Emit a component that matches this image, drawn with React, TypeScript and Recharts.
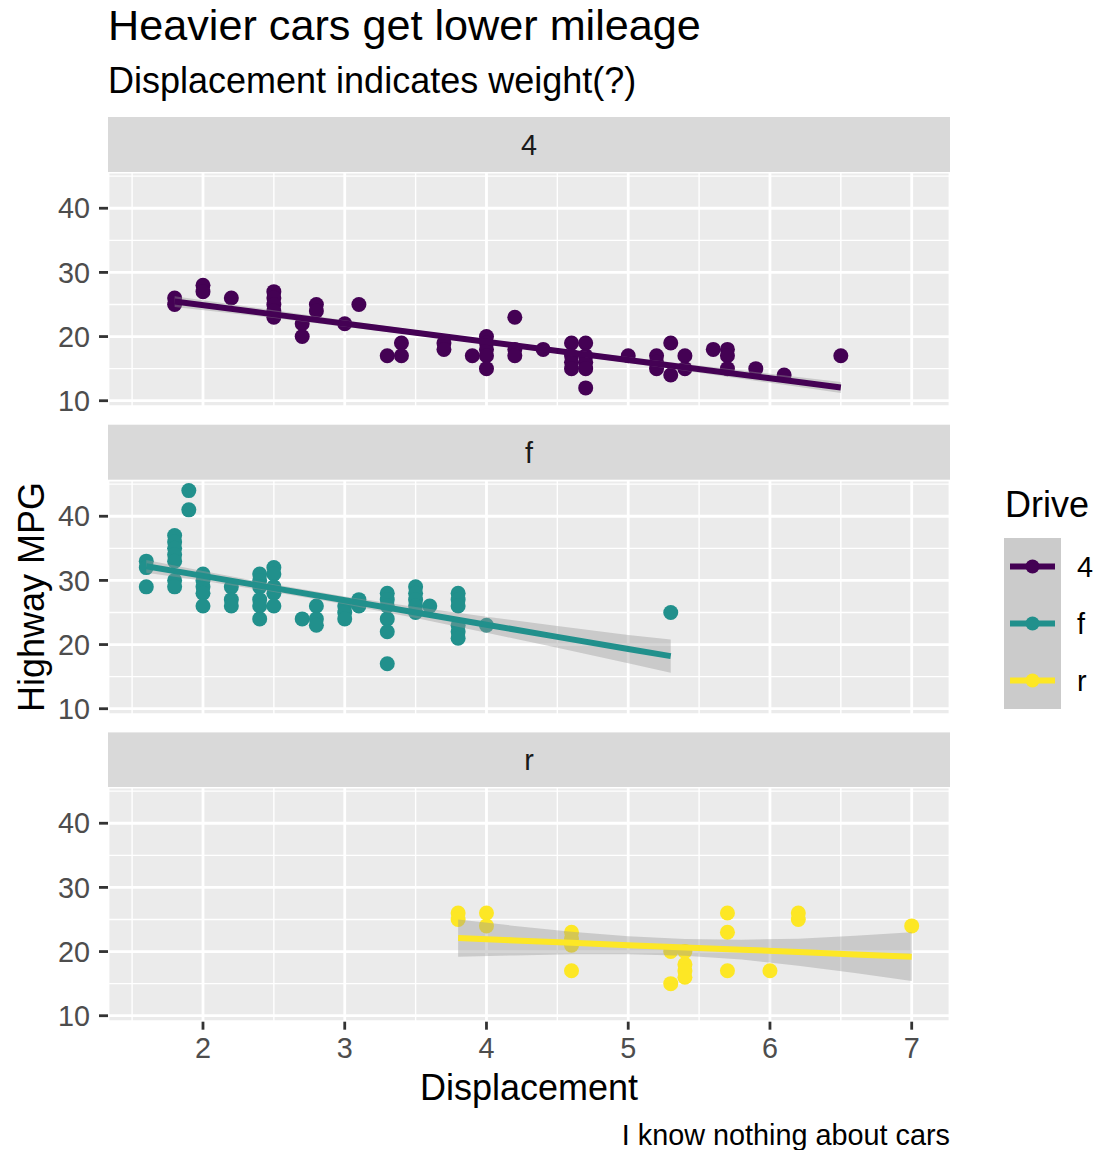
import React from 'react';
import { ComposedChart, Scatter, Line, Area, XAxis, YAxis, CartesianGrid } from 'recharts';

// ---------- data ----------
const DRIVES = ['4', 'f', 'r'];
const DRIVE_COLORS = ['#440154', '#21908C', '#FDE725'];

const X_TICKS = [2, 3, 4, 5, 6, 7];
const X_MINOR = [1.5, 2.5, 3.5, 4.5, 5.5, 6.5];
const Y_TICKS = [10, 20, 30, 40];
const Y_MINOR = [15, 25, 35, 45];

// 4-wheel drive
const displ4 = [1.8, 1.8, 2.0, 2.0, 2.2, 2.5, 2.5, 2.5, 2.5, 2.5, 2.7, 2.7, 2.8, 2.8, 3.0, 3.1, 3.3, 3.4, 3.4, 3.7, 3.7, 3.9, 4.0, 4.0, 4.0, 4.0, 4.0, 4.2, 4.2, 4.2, 4.4, 4.6, 4.6, 4.6, 4.6, 4.7, 4.7, 4.7, 4.7, 4.7, 5.0, 5.2, 5.2, 5.2, 5.3, 5.3, 5.4, 5.4, 5.6, 5.7, 5.7, 5.7, 5.9, 6.1, 6.5];
const hwy4 = [26, 25, 28, 27, 26, 27, 26, 25, 24, 23, 22, 20, 25, 24, 22, 25, 17, 19, 17, 19, 18, 17, 20, 19, 18, 17, 15, 23, 18, 17, 18, 19, 17, 16, 15, 19, 17, 16, 15, 12, 17, 17, 16, 15, 19, 14, 17, 15, 18, 18, 17, 15, 15, 14, 17];

// front-wheel drive
const displF = [1.6, 1.6, 1.6, 1.8, 1.8, 1.8, 1.8, 1.8, 1.8, 1.8, 1.9, 1.9, 2.0, 2.0, 2.0, 2.0, 2.0, 2.2, 2.2, 2.2, 2.4, 2.4, 2.4, 2.4, 2.4, 2.4, 2.5, 2.5, 2.5, 2.5, 2.5, 2.7, 2.8, 2.8, 2.8, 3.0, 3.0, 3.0, 3.1, 3.1, 3.3, 3.3, 3.3, 3.3, 3.3, 3.3, 3.5, 3.5, 3.5, 3.5, 3.5, 3.6, 3.8, 3.8, 3.8, 3.8, 3.8, 3.8, 4.0, 5.3];
const hwyF = [33, 32, 29, 37, 36, 35, 34, 33, 30, 29, 44, 41, 31, 30, 29, 28, 26, 29, 27, 26, 31, 30, 29, 27, 26, 24, 32, 31, 29, 28, 26, 24, 26, 24, 23, 26, 25, 24, 27, 26, 28, 27, 26, 24, 22, 17, 29, 28, 27, 26, 25, 26, 28, 27, 26, 23, 22, 21, 23, 25];

// rear-wheel drive
const displR = [3.8, 3.8, 4.0, 4.0, 4.6, 4.6, 4.6, 4.6, 5.3, 5.3, 5.4, 5.4, 5.4, 5.4, 5.7, 5.7, 5.7, 6.0, 6.2, 6.2, 7.0];
const hwyR = [26, 25, 26, 24, 23, 22, 21, 17, 20, 15, 20, 18, 17, 16, 26, 23, 17, 17, 26, 25, 24];

// fitted lines with confidence bands
const bandX4 = [1.8, 2.5, 3.2, 3.9, 4.6, 5.3, 6.0, 6.5];
const fit4 = [25.45, 23.46, 21.46, 19.47, 17.48, 15.48, 13.49, 12.07];
const lo4 = [24.6, 22.9, 21.0, 19.1, 17.1, 15.0, 12.8, 11.2];
const hi4 = [26.3, 24.1, 21.9, 19.8, 17.9, 16.0, 14.2, 12.9];

const bandXF = [1.6, 2.0, 2.5, 3.0, 3.5, 4.0, 4.5, 5.0, 5.3];
const fitF = [32.2, 30.7, 28.8, 26.9, 25.0, 23.1, 21.2, 19.3, 18.2];
const loF = [31.2, 29.95, 28.2, 26.3, 24.15, 21.85, 19.5, 17.1, 15.6];
const hiF = [33.2, 31.45, 29.4, 27.5, 25.85, 24.35, 22.9, 21.5, 20.8];

const bandXR = [3.8, 4.2, 4.6, 5.0, 5.4, 5.8, 6.2, 6.6, 7.0];
const fitR = [22.1, 21.74, 21.38, 21.0, 20.65, 20.3, 19.93, 19.56, 19.2];
const loR = [19.2, 19.4, 19.6, 19.6, 19.35, 18.75, 17.8, 16.65, 15.4];
const hiR = [25.0, 24.0, 23.1, 22.4, 21.95, 21.85, 22.0, 22.45, 23.0];

// ---------- build tables ----------
const pts = (xs: number[], ys: number[]) => xs.map((x, i) => ({ x, y: ys[i] }));
const band = (xs: number[], fit: number[], lo: number[], hi: number[]) =>
  xs.map((x, i) => ({ x, fit: fit[i], lo: lo[i], hi: hi[i] }));

const PANELS = [
  { label: DRIVES[0], color: DRIVE_COLORS[0], points: pts(displ4, hwy4), band: band(bandX4, fit4, lo4, hi4) },
  { label: DRIVES[1], color: DRIVE_COLORS[1], points: pts(displF, hwyF), band: band(bandXF, fitF, loF, hiF) },
  { label: DRIVES[2], color: DRIVE_COLORS[2], points: pts(displR, hwyR), band: band(bandXR, fitR, loR, hiR) },
];

// ---------- layout ----------
const FONT = '"Liberation Sans", Arial, Helvetica, sans-serif';
const X_DOMAIN: [number, number] = [1.33, 7.27];
const Y_DOMAIN: [number, number] = [9.07, 45.65];
const PLOT_LEFT = 108;
const PLOT_RIGHT = 950;
const STRIP_H = 55;
const PLOT_H = 234.7;
const GAP = 18;
const FIRST_STRIP_TOP = 117;
const X_AXIS_H = 60;
const PAD_BOTTOM = 18;

const stripTop = (i: number) => FIRST_STRIP_TOP + i * (STRIP_H + PLOT_H + GAP);
const plotTop = (i: number) => stripTop(i) + STRIP_H;

function Panel({ idx }: { idx: number }) {
  const p = PANELS[idx];
  const bottom = idx === PANELS.length - 1;
  const h = PLOT_H + (bottom ? X_AXIS_H : PAD_BOTTOM);
  const w = PLOT_RIGHT + 10;
  const color = p.color;
  const dot = (props: any) =>
    props.cx == null ? null : <circle cx={props.cx} cy={props.cy} r={7.5} fill={color} />;
  return (
    <div style={{ position: 'absolute', left: 0, top: plotTop(idx), width: w, height: h }}>
      <ComposedChart
        width={w}
        height={h}
        data={p.band}
        margin={{ top: 0, right: 10, bottom: bottom ? 0 : PAD_BOTTOM, left: 0 }}
      >
        <XAxis xAxisId="minor" type="number" dataKey="x" domain={X_DOMAIN} ticks={X_MINOR} interval={0} hide allowDataOverflow />
        <YAxis yAxisId="minor" type="number" dataKey="y" domain={Y_DOMAIN} ticks={Y_MINOR} interval={0} hide allowDataOverflow />
        <CartesianGrid xAxisId="minor" yAxisId="minor" fill="#EBEBEB" fillOpacity={1} stroke="#FFFFFF" strokeWidth={1.4} />
        <CartesianGrid stroke="#FFFFFF" strokeWidth={2.8} fill="none" />
        <XAxis
          type="number"
          dataKey="x"
          domain={X_DOMAIN}
          ticks={X_TICKS}
          interval={0}
          allowDataOverflow
          hide={!bottom}
          height={X_AXIS_H}
          axisLine={false}
          tickSize={8}
          tickMargin={7.6}
          tickLine={{ stroke: '#333333', strokeWidth: 2.8 }}
          tick={{ fill: '#4D4D4D', fontSize: 28.8, fontFamily: FONT }}
        />
        <YAxis
          type="number"
          dataKey="y"
          domain={Y_DOMAIN}
          ticks={Y_TICKS}
          interval={0}
          allowDataOverflow
          width={PLOT_LEFT}
          axisLine={false}
          tickSize={9}
          tickMargin={9}
          tickLine={{ stroke: '#333333', strokeWidth: 2.8 }}
          tick={{ fill: '#4D4D4D', fontSize: 28.8, fontFamily: FONT }}
        />
        <Scatter data={p.points} fill={color} shape={dot} isAnimationActive={false} zIndex={50} />
        <Area
          type="linear"
          dataKey={(d: any) => [d.lo, d.hi]}
          stroke="none"
          fill="#999999"
          fillOpacity={0.4}
          isAnimationActive={false}
          activeDot={false}
        />
        <Line
          type="linear"
          dataKey="fit"
          stroke={color}
          strokeWidth={6}
          dot={false}
          activeDot={false}
          isAnimationActive={false}
        />
      </ComposedChart>
    </div>
  );
}

export default function App() {
  const legendTop = 538;
  const keySize = 57;
  return (
    <div style={{ position: 'absolute', left: 0, top: 0, width: 1114, height: 1150, background: '#FFFFFF', fontFamily: FONT }}>
      <svg width={1114} height={1150} style={{ position: 'absolute', left: 0, top: 0 }} fontFamily={FONT}>
        <text x={108} y={40} fontSize={43.2} fill="#000000">Heavier cars get lower mileage</text>
        <text x={108} y={93} fontSize={36} fill="#000000">Displacement indicates weight(?)</text>
        {PANELS.map((p, i) => (
          <g key={p.label}>
            <rect x={PLOT_LEFT} y={stripTop(i)} width={PLOT_RIGHT - PLOT_LEFT} height={STRIP_H} fill="#D9D9D9" />
            <text x={(PLOT_LEFT + PLOT_RIGHT) / 2} y={stripTop(i) + STRIP_H / 2 + 10.3} fontSize={28.8} fill="#1A1A1A" textAnchor="middle">
              {p.label}
            </text>
          </g>
        ))}
        <text x={(PLOT_LEFT + PLOT_RIGHT) / 2} y={1100} fontSize={36} fill="#000000" textAnchor="middle">Displacement</text>
        <text transform={`translate(44,${(plotTop(0) + plotTop(2) + PLOT_H) / 2}) rotate(-90)`} fontSize={36} fill="#000000" textAnchor="middle">
          Highway MPG
        </text>
        <text x={950} y={1145} fontSize={28.8} fill="#000000" textAnchor="end">I know nothing about cars</text>
        {/* legend */}
        <text x={1005} y={517} fontSize={36} fill="#000000">Drive</text>
        {PANELS.map((p, i) => {
          const cy = legendTop + i * keySize + keySize / 2;
          return (
            <g key={'lg' + p.label}>
              <rect x={1004} y={legendTop + i * keySize} width={57} height={keySize} fill="#CBCBCB" />
              <circle cx={1032.5} cy={cy} r={7} fill={p.color} />
              <line x1={1010} x2={1055} y1={cy} y2={cy} stroke={p.color} strokeWidth={6} />
              <text x={1077} y={cy + 10.3} fontSize={28.8} fill="#000000">{p.label}</text>
            </g>
          );
        })}
      </svg>
      {PANELS.map((p, i) => (
        <Panel key={p.label} idx={i} />
      ))}
    </div>
  );
}
